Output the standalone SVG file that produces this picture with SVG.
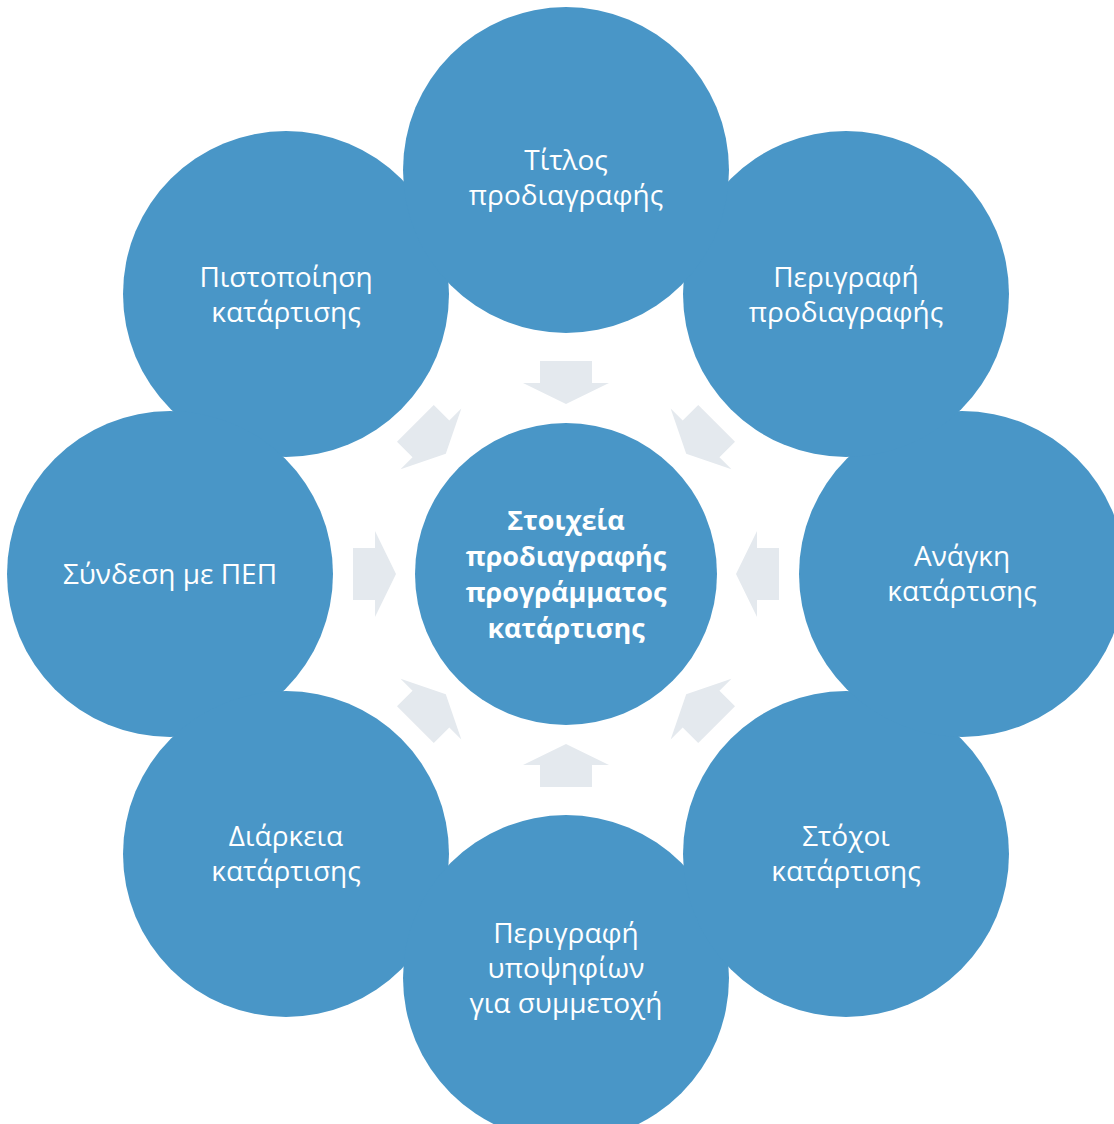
<svg xmlns="http://www.w3.org/2000/svg" width="1114" height="1124" viewBox="0 0 1114 1124">
  <defs>
    <style>
      .node { fill: #4996C7; }
      .arrow { fill: #E4E9EE; }
      .lbl { font-family: "Open Sans", "Noto Sans", "DejaVu Sans", sans-serif; font-size: 28px; fill: #FFFFFF; text-anchor: middle; }
      .ctr { font-weight: bold; font-size: 27px; }
    </style>
    <polygon id="arr" points="-213,-26 -191,-26 -191,-43 -170,0 -191,43 -191,26 -213,26"/>
  </defs>
  <rect width="1114" height="1124" fill="#FFFFFF"/>

  <g id="connectors" class="arrow">
    <use href="#arr" transform="translate(566,574) rotate(0)"/>
    <use href="#arr" transform="translate(566,574) rotate(45)"/>
    <use href="#arr" transform="translate(566,574) rotate(90)"/>
    <use href="#arr" transform="translate(566,574) rotate(135)"/>
    <use href="#arr" transform="translate(566,574) rotate(180)"/>
    <use href="#arr" transform="translate(566,574) rotate(225)"/>
    <use href="#arr" transform="translate(566,574) rotate(270)"/>
    <use href="#arr" transform="translate(566,574) rotate(315)"/>
  </g>

  <g id="node-center">
    <circle class="node" cx="566" cy="574" r="151"/>
    <text class="lbl ctr" x="566" y="530">Στοιχεία</text>
    <text class="lbl ctr" x="566" y="566">προδιαγραφής</text>
    <text class="lbl ctr" x="566" y="602">προγράμματος</text>
    <text class="lbl ctr" x="566" y="638">κατάρτισης</text>
  </g>

  <g id="node-top-left">
    <circle class="node" cx="286" cy="294" r="163"/>
    <text class="lbl" x="286" y="287">Πιστοποίηση</text>
    <text class="lbl" x="286" y="322">κατάρτισης</text>
  </g>

  <g id="node-left">
    <circle class="node" cx="170" cy="574" r="163"/>
    <text class="lbl" x="170" y="584">Σύνδεση με ΠΕΠ</text>
  </g>

  <g id="node-bottom-left">
    <circle class="node" cx="286" cy="854" r="163"/>
    <text class="lbl" x="286" y="846">Διάρκεια</text>
    <text class="lbl" x="286" y="881">κατάρτισης</text>
  </g>

  <g id="node-bottom">
    <circle class="node" cx="566" cy="978" r="163"/>
    <text class="lbl" x="566" y="943">Περιγραφή</text>
    <text class="lbl" x="566" y="978">υποψηφίων</text>
    <text class="lbl" x="566" y="1013">για συμμετοχή</text>
  </g>

  <g id="node-bottom-right">
    <circle class="node" cx="846" cy="854" r="163"/>
    <text class="lbl" x="846" y="846">Στόχοι</text>
    <text class="lbl" x="846" y="881">κατάρτισης</text>
  </g>

  <g id="node-right">
    <circle class="node" cx="962" cy="574" r="163"/>
    <text class="lbl" x="962" y="566">Ανάγκη</text>
    <text class="lbl" x="962" y="601">κατάρτισης</text>
  </g>

  <g id="node-top-right">
    <circle class="node" cx="846" cy="294" r="163"/>
    <text class="lbl" x="846" y="287">Περιγραφή</text>
    <text class="lbl" x="846" y="322">προδιαγραφής</text>
  </g>

  <g id="node-top">
    <circle class="node" cx="566" cy="170" r="163"/>
    <text class="lbl" x="566" y="170">Τίτλος</text>
    <text class="lbl" x="566" y="205">προδιαγραφής</text>
  </g>
</svg>
